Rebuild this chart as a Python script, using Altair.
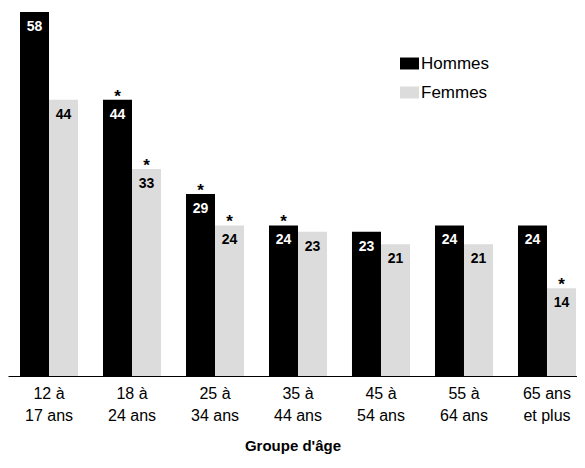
import altair as alt
import pandas as pd

age_groups = ["12 à\n17 ans", "18 à\n24 ans", "25 à\n34 ans", "35 à\n44 ans",
              "45 à\n54 ans", "55 à\n64 ans", "65 ans\net plus"]
hommes = [58, 44, 29, 24, 23, 24, 24]
femmes = [44, 33, 24, 23, 21, 21, 14]
hommes_star = [False, True, True, True, False, False, False]
femmes_star = [False, True, True, False, False, False, True]
sexes = ["Hommes", "Femmes"]
colors = ["#000000", "#dcdcdc"]

rows = []
for i, a in enumerate(age_groups):
    rows.append(dict(age=a, sexe="Hommes", valeur=hommes[i], star=hommes_star[i]))
    rows.append(dict(age=a, sexe="Femmes", valeur=femmes[i], star=femmes_star[i]))
df = pd.DataFrame(rows)

FONT = "Liberation Sans, Arial, sans-serif"

x = alt.X(
    "age:N", sort=age_groups,
    scale=alt.Scale(paddingInner=0.301, paddingOuter=0.0783, align=0.923),
    axis=alt.Axis(title="Groupe d'âge", labelAngle=0,
                  labelExpr="split(datum.label, '\\n')"),
)
y = alt.Y("valeur:Q", scale=alt.Scale(domain=[0, 58], nice=False, zero=True), axis=None)
xo = alt.XOffset("sexe:N", sort=sexes, scale=alt.Scale(paddingInner=0, paddingOuter=0))

base = alt.Chart(df)

bars = base.mark_bar().encode(
    x=x, y=y, xOffset=xo,
    color=alt.Color(
        "sexe:N", sort=sexes,
        scale=alt.Scale(domain=sexes, range=colors),
        legend=alt.Legend(
            title=None, orient="none", legendX=392, legendY=42,
            symbolType="M-1,-0.63H1V0.63H-1Z", symbolSize=361,
            symbolStrokeWidth=0, labelFont=FONT, labelFontSize=17,
            labelColor="black", labelOffset=2, rowPadding=11, padding=0,
        ),
    ),
)

values = base.mark_text(baseline="middle", dy=15, fontSize=14, fontWeight="bold", font=FONT).encode(
    x=x, y=y, xOffset=xo,
    text=alt.Text("valeur:Q"),
    color=alt.condition("datum.sexe == 'Hommes'", alt.value("white"), alt.value("black")),
)

stars = base.transform_filter("datum.star").mark_text(
    baseline="alphabetic", dy=2, fontSize=17, fontWeight="bold", font=FONT, color="black"
).encode(
    x=x, y=y, xOffset=xo, text=alt.value("*"),
)

chart = alt.layer(bars, values, stars).properties(
    width=569, height=364,
    padding={"left": 0, "top": 4, "right": 0, "bottom": 8},
).configure_view(stroke=None).configure_axis(
    domainColor="black", domainWidth=1, ticks=False, grid=False,
    labelFont=FONT, labelFontSize=16, labelLineHeight=22, labelPadding=9,
    labelColor="black", titleFont=FONT, titleFontSize=15, titleFontWeight="bold",
    titleColor="black", titlePadding=15,
)

chart.save("out.html", embed_options={"renderer": "svg", "actions": False})
